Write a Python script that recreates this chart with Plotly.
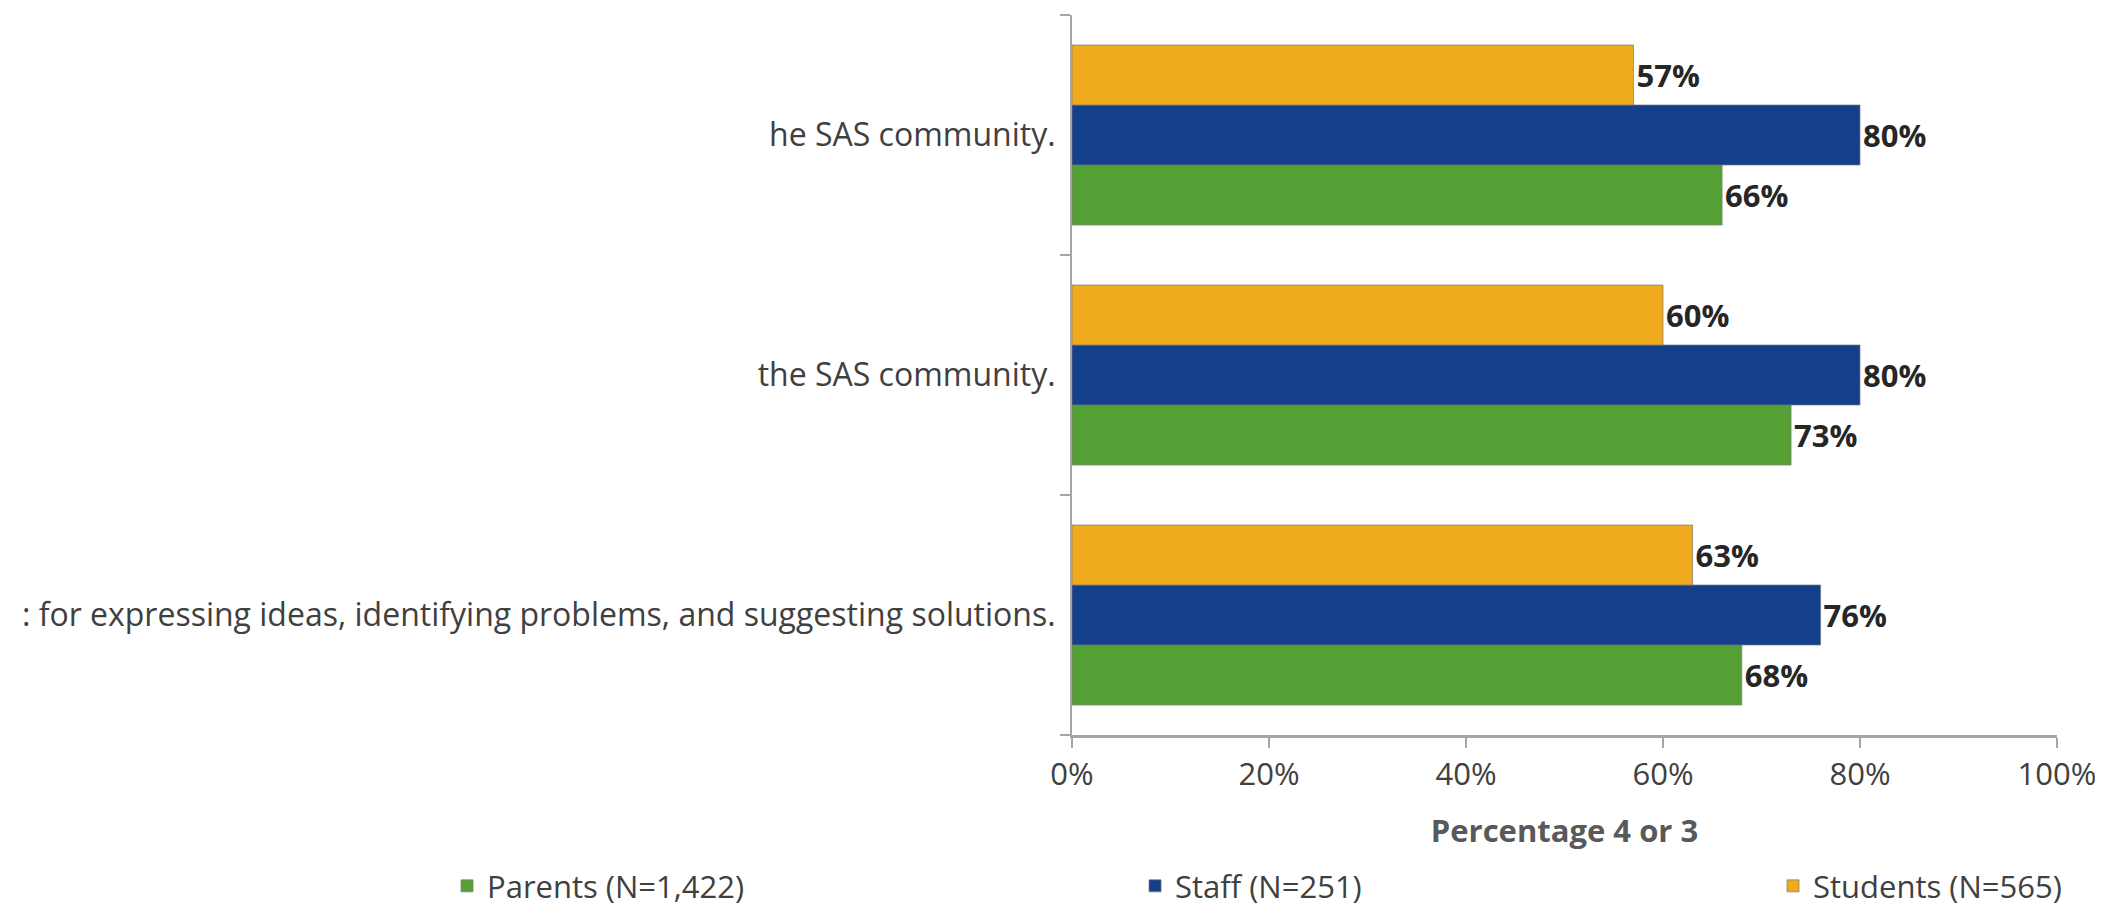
import plotly.graph_objects as go

# Data (categories listed bottom-to-top)
categories = [
    ": for expressing ideas, identifying problems, and suggesting solutions.",
    "the SAS community.",
    "he SAS community.",
]
parents = [0.68, 0.73, 0.66]
staff = [0.76, 0.80, 0.80]
students = [0.63, 0.60, 0.57]
series_names = ["Parents (N=1,422)", "Staff (N=251)", "Students (N=565)"]
series_colors = ["#55A035", "#143F8B", "#F0AA1E"]
x_ticks = [0, 0.2, 0.4, 0.6, 0.8, 1.0]
x_ticklabels = ["0%", "20%", "40%", "60%", "80%", "100%"]

FONT = "Open Sans"
legend_ids = ["legend", "legend2", "legend3"]
legend_x = [-0.6345, 0.064, 0.7117]

fig = go.Figure()
for name, vals, col, lid in zip(series_names, [parents, staff, students], series_colors, legend_ids):
    fig.add_trace(go.Bar(
        y=categories, x=vals, name=name, orientation="h",
        marker=dict(color=col, line=dict(color="rgba(120,120,120,0.7)", width=1)),
        text=[f"{round(v*100)}%" for v in vals],
        textposition="outside", constraintext="none", cliponaxis=False,
        textfont=dict(family=FONT, size=31, color="#262626", weight="bold"),
        legend=lid,
    ))

legend_common = dict(
    orientation="h", y=-0.21, yanchor="middle", xanchor="left",
    font=dict(family=FONT, size=31, color="#404040"),
    bgcolor="rgba(0,0,0,0)", borderwidth=0,
)
layout_legends = {lid: dict(x=lx, **legend_common) for lid, lx in zip(legend_ids, legend_x)}

# page body has an 8px margin; size the figure so it fits the 2103x915 window
fig.update_layout(
    width=2095, height=907,
    paper_bgcolor="white", plot_bgcolor="white",
    margin=dict(l=1064, r=46, t=7, b=180, autoexpand=False),
    barmode="group", bargap=0.25, bargroupgap=0,
    font=dict(family=FONT, size=31, color="#404040"),
    showlegend=True,
    **layout_legends,
)
fig.update_xaxes(
    range=[0, 1], tickvals=x_ticks, ticktext=x_ticklabels,
    showgrid=False, zeroline=False, automargin=False,
    showline=True, linecolor="#A6A6A6", linewidth=3,
    ticks="outside", ticklen=10, tickcolor="#A6A6A6", tickwidth=2,
    tickfont=dict(family=FONT, size=31, color="#404040"),
    title=dict(text="Percentage 4 or 3", standoff=28,
               font=dict(family=FONT, size=31, color="#595959", weight="bold")),
)
fig.update_yaxes(
    categoryorder="array", categoryarray=categories,
    showgrid=False, zeroline=False, automargin=False,
    showline=True, linecolor="#A6A6A6", linewidth=2,
    ticks="outside", ticklen=10, tickcolor="#A6A6A6", tickwidth=2,
    tickson="boundaries", ticklabelstandoff=8,
    tickfont=dict(family=FONT, size=32, color="#404040"),
)

fig.write_html("out.html")
